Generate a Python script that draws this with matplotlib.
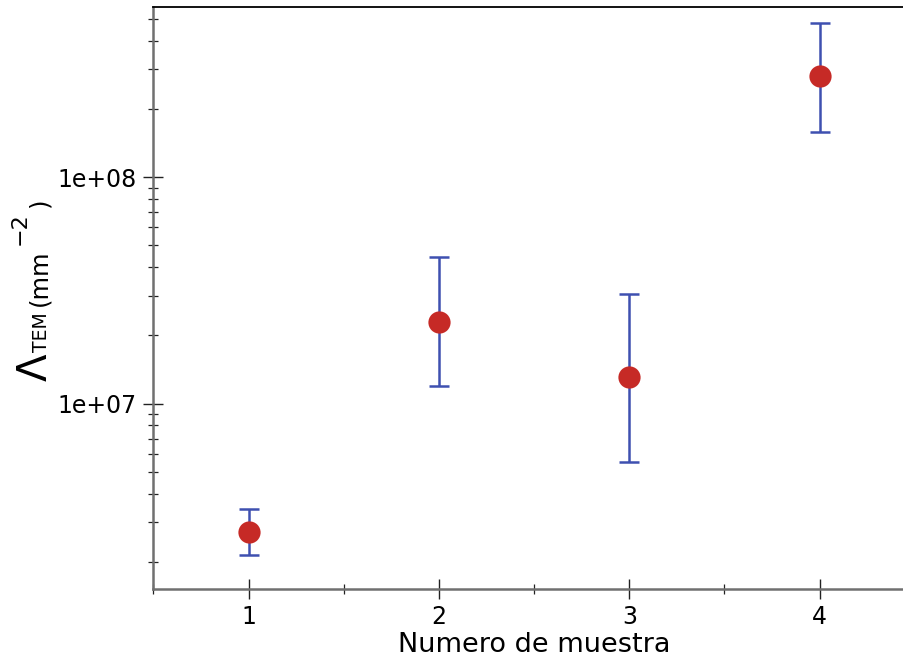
import matplotlib
matplotlib.use("Agg")
import matplotlib.pyplot as plt
from matplotlib.ticker import MultipleLocator, LogLocator, NullFormatter, FixedLocator
import numpy as np

samples = [1, 2, 3, 4]
values = [2.70e6, 2.29e7, 1.31e7, 2.79e8]
upper = [3.43e6, 4.44e7, 3.05e7, 4.83e8]
lower = [2.15e6, 1.19e7, 5.50e6, 1.59e8]

xlabel_text = 'Numero de muestra'
ylabel_parts = ['\u039b', 'TEM', '(mm', '\u22122', ')']

plt.rcParams['font.family'] = ['DejaVu Sans']

W, H = 904, 662
fig = plt.figure(figsize=(W / 100, H / 100), dpi=100)
left_px, right_px, top_px, bot_px = 153.5, 153.5 + 4 * 190.3, 7.3, 589.3
ax = fig.add_axes([left_px / W, 1 - bot_px / H, (right_px - left_px) / W, (bot_px - top_px) / H])

vals = np.array(values)
yerr = np.array([vals - np.array(lower), np.array(upper) - vals])
ax.errorbar(samples, values, yerr=yerr, fmt='none', ecolor='#3e50b0', elinewidth=1.8,
            capsize=7.5, capthick=1.8, zorder=2)
ax.plot(samples, values, 'o', color='#c62a26', markersize=16, markeredgewidth=0, zorder=3)

ax.set_yscale('log')
ax.set_ylim(1.51e6, 5.64e8)
ax.set_xlim(0.5, 4.5)

ax.xaxis.set_major_locator(FixedLocator(samples))
ax.xaxis.set_minor_locator(MultipleLocator(0.5))
ax.yaxis.set_major_locator(LogLocator(base=10))
ax.yaxis.set_minor_locator(LogLocator(base=10, subs=np.arange(2, 10)))
ax.yaxis.set_minor_formatter(NullFormatter())
ax.yaxis.set_major_formatter(plt.FuncFormatter(lambda v, p: '1e+%02d' % int(round(np.log10(v)))))

ax.tick_params(which='major', direction='inout', length=14.4, width=1.0, colors='#222222',
               labelcolor='black', labelsize=17, pad=5)
ax.tick_params(which='minor', direction='inout', length=7.2, width=0.9, colors='#222222')
ax.tick_params(axis='x', which='major', pad=4)

for s in ['left', 'bottom']:
    ax.spines[s].set_color('#707070')
    ax.spines[s].set_linewidth(1.8)
ax.spines['top'].set_color('black')
ax.spines['top'].set_linewidth(1.3)
ax.spines['right'].set_visible(False)

ax.set_xlabel(xlabel_text, fontsize=19.5, labelpad=2)


def vtext(x_px, y_px, s, size):
    fig.text(x_px / W, 1 - y_px / H, s, rotation=90, rotation_mode='anchor',
             ha='left', va='baseline', fontsize=size, color='black')


# y label built from pieces: big Lambda, smaller TEM, unit with superscript
vtext(46.7, 381, ylabel_parts[0], 29)
vtext(46.7, 352, ylabel_parts[1], 13.5)
vtext(46.7, 306, ylabel_parts[2], 17.5)
vtext(25.5, 245, ylabel_parts[3], 16)
vtext(46.7, 207, ylabel_parts[4], 17.5)

fig.savefig('out.png', dpi=100)
